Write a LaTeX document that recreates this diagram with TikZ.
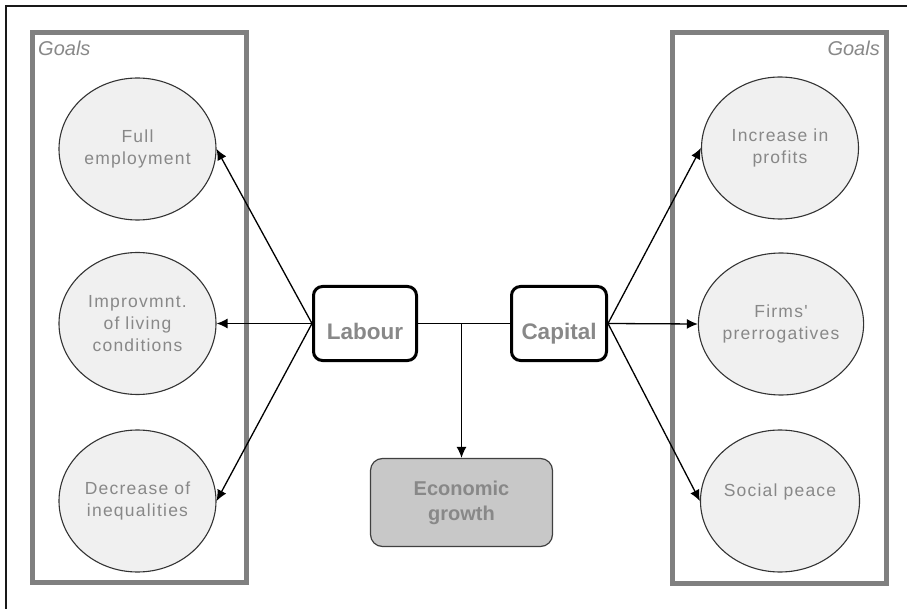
\documentclass[tikz,border=0pt]{standalone}
\usepackage{fontspec}
\setmainfont{Liberation Sans}
\newfontfamily\goalfont[LetterSpace=7]{Liberation Sans}
\usetikzlibrary{arrows.meta, positioning, shapes.geometric, calc}

\definecolor{txtgray}{HTML}{888888}
\definecolor{boxgray}{HTML}{808080}
\definecolor{ellfill}{HTML}{F0F0F0}
\definecolor{growthfill}{HTML}{C8C8C8}

\tikzset{
  goal/.style={ellipse, draw=black!80, line width=1.1pt, fill=ellfill, minimum width=157pt, minimum height=142pt,
    inner sep=0pt, align=center, text=txtgray, font=\goalfont\fontsize{17.5}{22}\selectfont},
  factor/.style={rectangle, rounded corners=9pt, draw=black, line width=3pt, minimum height=74pt,
    text=txtgray, font=\bfseries\fontsize{22.5}{26}\selectfont},
  arr/.style={-{Latex[length=11pt,width=10pt]}, line width=1.3pt}
}

\begin{document}
\begin{tikzpicture}[x=1pt, y=-1pt]
      \useasboundingbox (0,0) rectangle (907,609);
      \draw[line width=2.5pt, black!90] (907,6) -- (6,6) -- (6,609);

      % goal frames
      \draw[boxgray, line width=5pt] (32.5,33) rectangle (246.5,582.5);
      \draw[boxgray, line width=5pt] (672,33) rectangle (886,583);
      \node[anchor=base west, inner sep=0pt, text=txtgray, font=\itshape\fontsize{20}{24}\selectfont] (goalsL) at (38,56) {Goals};
      \node[anchor=base east, inner sep=0pt, text=txtgray, font=\itshape\fontsize{20}{24}\selectfont] (goalsR) at (880,56) {Goals};

      \node[goal] (full) at (137.5,149) {Full\\employment};
      \node[goal] (living) at (137.5,323.5) {Improvmnt.\\of living\\conditions};
      \node[goal] (ineq) at (137.5,501) {Decrease of\\inequalities};

      \node[goal] (profits) at (780,148) {Increase in\\profits};
      \node[goal] (prerog) at (781,324) {Firms'\\prerrogatives};
      \node[goal] (peace) at (780,501) {Social peace\\\phantom{x}};

      \node[factor, minimum width=103pt] (labour) at (365,323.5) {\raisebox{-16pt}[0pt][0pt]{Labour}};
      \node[factor, minimum width=95pt] (capital) at (559,323.5) {\raisebox{-16pt}[0pt][0pt]{Capital}};

      \node[rectangle, rounded corners=12pt, draw=black!75, line width=1.2pt, fill=growthfill,
        minimum width=182pt, minimum height=88pt, align=center, text=txtgray,
        font=\bfseries\fontsize{20}{25}\selectfont] (growth) at (461.5,502.5) {Economic\\growth};

      \coordinate (junction) at (growth.north |- labour.east);

      \draw[line width=1.3pt] (labour.east) -- (capital.west);
      \draw[arr] (junction) -- (growth.north);

      \draw[arr] (labour.west) -- (full.east);
      \draw[arr] (labour.west) -- (living.east);
      \draw[arr] (labour.west) -- (ineq.east);

      \draw[arr] (capital.east) -- (profits.west);
      \draw[arr] (capital.east) -- (prerog.west);
      \draw[arr] (capital.east) -- (peace.west);
    \end{tikzpicture}
\end{document}
